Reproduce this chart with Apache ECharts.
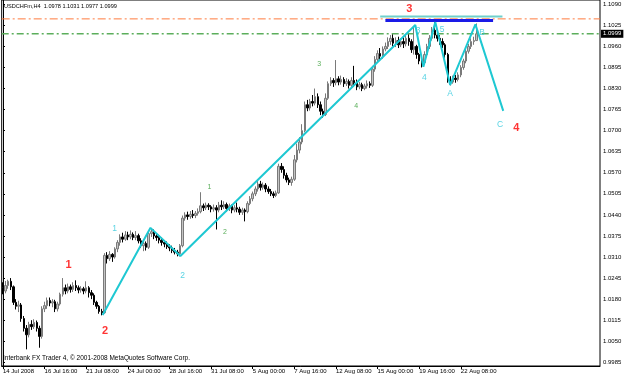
<!DOCTYPE html>
<html><head><meta charset="utf-8">
<script src="https://cdn.jsdelivr.net/npm/echarts@6/dist/echarts.min.js"></script>
<style>html,body{margin:0;padding:0;background:#fff}#c{width:625px;height:378px}</style>
</head><body><div id="c"></div>
<script>
// ---- data (USDCHFm H4) ----
const opens = [
1.0215,1.0205,1.0222,1.0235,1.0218,1.0170,1.0158,1.0162,1.0120,1.0090,
1.0070,1.0102,1.0095,1.0108,1.0090,1.0065,1.0150,1.0160,1.0176,1.0168,
1.0172,1.0150,1.0165,1.0195,1.0215,1.0205,1.0218,1.0210,1.0222,1.0215,
1.0208,1.0212,1.0205,1.0215,1.0200,1.0192,1.0170,1.0158,1.0142,1.0138,
1.0315,1.0305,1.0318,1.0310,1.0335,1.0355,1.0372,1.0365,1.0378,1.0372,
1.0380,1.0370,1.0376,1.0360,1.0345,1.0352,1.0340,1.0382,1.0388,1.0375,
1.0370,1.0362,1.0355,1.0350,1.0342,1.0338,1.0330,1.0325,1.0320,1.0345,
1.0430,1.0440,1.0435,1.0442,1.0438,1.0445,1.0450,1.0468,1.0462,1.0470,
1.0465,1.0458,1.0462,1.0455,1.0470,1.0465,1.0472,1.0460,1.0468,1.0455,
1.0462,1.0458,1.0448,1.0455,1.0450,1.0475,1.0490,1.0505,1.0520,1.0535,
1.0525,1.0532,1.0520,1.0512,1.0505,1.0500,1.0508,1.0590,1.0580,1.0562,
1.0548,1.0540,1.0550,1.0610,1.0640,1.0665,1.0700,1.0780,1.0770,1.0790,
1.0785,1.0805,1.0780,1.0760,1.0750,1.0800,1.0845,1.0855,1.0848,1.0860,
1.0850,1.0858,1.0845,1.0852,1.0840,1.0855,1.0848,1.0835,1.0842,1.0830,
1.0838,1.0845,1.0840,1.0890,1.0920,1.0938,1.0930,1.0952,1.0960,1.0975,
1.0985,1.0970,1.0978,1.0965,1.0975,1.0968,1.0985,1.0975,1.0950,1.0960,
1.0935,1.0915,1.0910,1.0935,1.0960,1.0985,1.1010,1.0995,1.0985,1.0975,
1.0965,1.0935,1.0855,1.0850,1.0862,1.0858,1.0872,1.0895,1.0915,1.0945,
1.0960,1.0975,1.0978];
const closes = [
1.0205,1.0222,1.0235,1.0218,1.0170,1.0158,1.0162,1.0120,1.0090,1.0070,
1.0102,1.0095,1.0108,1.0090,1.0065,1.0150,1.0160,1.0176,1.0168,1.0172,
1.0150,1.0165,1.0195,1.0215,1.0205,1.0218,1.0210,1.0222,1.0215,1.0208,
1.0212,1.0205,1.0215,1.0200,1.0192,1.0170,1.0158,1.0142,1.0138,1.0315,
1.0305,1.0318,1.0310,1.0335,1.0355,1.0372,1.0365,1.0378,1.0372,1.0380,
1.0370,1.0376,1.0360,1.0345,1.0352,1.0340,1.0382,1.0388,1.0375,1.0370,
1.0362,1.0355,1.0350,1.0342,1.0338,1.0330,1.0325,1.0320,1.0345,1.0430,
1.0440,1.0435,1.0442,1.0438,1.0445,1.0450,1.0468,1.0462,1.0470,1.0465,
1.0458,1.0462,1.0455,1.0470,1.0465,1.0472,1.0460,1.0468,1.0455,1.0462,
1.0458,1.0448,1.0455,1.0450,1.0475,1.0490,1.0505,1.0520,1.0535,1.0525,
1.0532,1.0520,1.0512,1.0505,1.0500,1.0508,1.0590,1.0580,1.0562,1.0548,
1.0540,1.0550,1.0610,1.0640,1.0665,1.0700,1.0780,1.0770,1.0790,1.0785,
1.0805,1.0780,1.0760,1.0750,1.0800,1.0845,1.0855,1.0848,1.0860,1.0850,
1.0858,1.0845,1.0852,1.0840,1.0855,1.0848,1.0835,1.0842,1.0830,1.0838,
1.0845,1.0840,1.0890,1.0920,1.0938,1.0930,1.0952,1.0960,1.0975,1.0985,
1.0970,1.0978,1.0965,1.0975,1.0968,1.0985,1.0975,1.0950,1.0960,1.0935,
1.0915,1.0910,1.0935,1.0960,1.0985,1.1010,1.0995,1.0985,1.0975,1.0965,
1.0935,1.0855,1.0850,1.0862,1.0858,1.0872,1.0895,1.0915,1.0945,1.0960,
1.0975,1.0978,1.0999];
const lows = [
1.0195,1.0198,1.0212,1.0208,1.0162,1.0148,1.0140,1.0110,1.0080,1.0025,
1.0062,1.0085,1.0088,1.0080,1.0030,1.0058,1.0140,1.0150,1.0158,1.0155,
1.0140,1.0142,1.0160,1.0188,1.0195,1.0198,1.0200,1.0202,1.0205,1.0198,
1.0200,1.0195,1.0198,1.0185,1.0180,1.0162,1.0150,1.0135,1.0130,1.0135,
1.0290,1.0298,1.0295,1.0305,1.0325,1.0345,1.0355,1.0360,1.0362,1.0365,
1.0362,1.0362,1.0352,1.0338,1.0328,1.0330,1.0335,1.0372,1.0365,1.0360,
1.0352,1.0345,1.0340,1.0335,1.0328,1.0322,1.0318,1.0312,1.0312,1.0340,
1.0422,1.0425,1.0428,1.0430,1.0430,1.0438,1.0445,1.0452,1.0455,1.0455,
1.0448,1.0450,1.0395,1.0448,1.0455,1.0458,1.0450,1.0452,1.0445,1.0448,
1.0448,1.0440,1.0440,1.0420,1.0445,1.0470,1.0482,1.0498,1.0512,1.0515,
1.0518,1.0510,1.0505,1.0498,1.0492,1.0495,1.0505,1.0570,1.0552,1.0540,
1.0532,1.0530,1.0545,1.0602,1.0630,1.0658,1.0695,1.0760,1.0762,1.0775,
1.0778,1.0770,1.0748,1.0740,1.0745,1.0795,1.0838,1.0835,1.0840,1.0840,
1.0842,1.0835,1.0838,1.0830,1.0832,1.0835,1.0825,1.0828,1.0822,1.0825,
1.0830,1.0832,1.0835,1.0882,1.0910,1.0918,1.0922,1.0945,1.0952,1.0965,
1.0960,1.0958,1.0955,1.0958,1.0955,1.0960,1.0962,1.0940,1.0935,1.0922,
1.0905,1.0895,1.0905,1.0928,1.0952,1.0978,1.0985,1.0975,1.0965,1.0955,
1.0925,1.0848,1.0840,1.0845,1.0848,1.0852,1.0865,1.0888,1.0908,1.0938,
1.0952,1.0965,1.0977];
const highs = [
1.0232,1.0236,1.0240,1.0245,1.0222,1.0180,1.0175,1.0168,1.0128,1.0100,
1.0110,1.0115,1.0118,1.0114,1.0098,1.0158,1.0172,1.0185,1.0185,1.0180,
1.0178,1.0172,1.0200,1.0245,1.0225,1.0228,1.0225,1.0232,1.0238,1.0222,
1.0220,1.0218,1.0235,1.0220,1.0208,1.0198,1.0175,1.0162,1.0150,1.0322,
1.0325,1.0328,1.0322,1.0340,1.0362,1.0380,1.0385,1.0390,1.0388,1.0392,
1.0386,1.0390,1.0382,1.0368,1.0362,1.0358,1.0390,1.0398,1.0395,1.0382,
1.0378,1.0370,1.0362,1.0358,1.0350,1.0345,1.0338,1.0332,1.0350,1.0438,
1.0448,1.0450,1.0452,1.0455,1.0452,1.0460,1.0510,1.0475,1.0478,1.0476,
1.0470,1.0472,1.0470,1.0480,1.0485,1.0482,1.0478,1.0475,1.0472,1.0470,
1.0478,1.0465,1.0462,1.0460,1.0482,1.0498,1.0512,1.0528,1.0545,1.0545,
1.0540,1.0538,1.0528,1.0520,1.0512,1.0515,1.0598,1.0600,1.0590,1.0570,
1.0555,1.0558,1.0625,1.0660,1.0680,1.0720,1.0790,1.0795,1.0798,1.0810,
1.0830,1.0815,1.0790,1.0768,1.0815,1.0852,1.0865,1.0862,1.0918,1.0868,
1.0870,1.0865,1.0862,1.0858,1.0865,1.0900,1.0858,1.0850,1.0848,1.0845,
1.0855,1.0852,1.0900,1.0930,1.0948,1.0955,1.0960,1.0972,1.0988,1.0995,
1.0998,1.0988,1.0990,1.0985,1.0988,1.0995,1.0998,1.0982,1.1020,1.0965,
1.0940,1.0925,1.0945,1.0968,1.0995,1.1020,1.1035,1.1005,1.0995,1.0985,
1.0970,1.0940,1.0868,1.0870,1.0872,1.0880,1.0902,1.0922,1.0955,1.0968,
1.0985,1.0990,1.1031];

const yTicks = [0.9985,1.0050,1.0115,1.0180,1.0245,1.0310,1.0375,1.0440,1.0505,1.0570,1.0635,1.0700,1.0765,1.0830,1.0895,1.0960,1.1025,1.1090];
const xTickLabels = ['14 Jul 2008','16 Jul 16:00','21 Jul 08:00','24 Jul 00:00','28 Jul 16:00','31 Jul 08:00','5 Aug 00:00','7 Aug 16:00','12 Aug 08:00','15 Aug 00:00','19 Aug 16:00','22 Aug 08:00'];

// wave zigzag vertices [bar position, price]
const zigzag = [[38.3,1.0131],[56.7,1.0400],[68.2,1.0313],[158.5,1.1026],[161.6,1.0897],[166.2,1.1035],[171.9,1.0841],[181.6,1.1028],[192.3,1.0761]];
// horizontal trend lines
const blueLine = [[147,1.1040],[188.4,1.1040]];
const cyanLine = [[145,1.1052],[192,1.1052]];
const orangeLevel = 1.1045;
const priceLevel = 1.0999;
// wave labels [text, bar position, price]
const redLabels = [['1',25.2,1.0284],['2',39.2,1.0083],['3',156.2,1.1075],['4',197.3,1.0708]];
const cyanLabels = [['1',42.9,1.0399],['2',69.0,1.0251],['3',159.6,1.1010],['4',162.0,1.0865],['5',168.8,1.1013],['A',171.9,1.0813],['B',184.2,1.1004],['C',191.1,1.0717]];
const greenLabels = [['1',79.4,1.0526],['2',85.3,1.0387],['3',121.6,1.0906],['4',135.8,1.0776]];

const titleText = 'USDCHFm,H4  1.0978 1.1031 1.0977 1.0999';
const footerText = 'Interbank FX Trader 4, \u00A9 2001-2008 MetaQuotes Software Corp.';

// ---- build ----
const SLOTS = 230;
const N = closes.length;
const MON = ['Jan','Feb','Mar','Apr','May','Jun','Jul','Aug','Sep','Oct','Nov','Dec'];
const categories = [];
(function(){
  let t = Date.UTC(2008,6,14,0,0);
  while (categories.length < N) {
    const d = new Date(t); const wd = d.getUTCDay();
    if (wd >= 1 && wd <= 5) {
      const hh = String(d.getUTCHours()).padStart(2,'0');
      categories.push(d.getUTCDate()+' '+MON[d.getUTCMonth()]+' '+hh+':00');
    }
    t += 4*3600*1000;
  }
  for (let i = N; i < SLOTS; i++) categories.push('slot'+i);
})();
const ohlc = opens.map((o,i)=>[o, closes[i], lows[i], highs[i]]);
const showTick = (idx) => idx % 16 === 0 && (idx/16) < xTickLabels.length;
const FONT = '"Liberation Sans", Arial, sans-serif';
const yMin = 0.99736, yMax = 1.11033;
const xFrom = -0.5, xTo = SLOTS - 0.5;

function labelSeries(arr, style) {
  return {
    type:'scatter', xAxisIndex:1, yAxisIndex:0, symbolSize:1, silent:true, z:20,
    itemStyle:{color:'rgba(0,0,0,0)'},
    data: arr.map(l=>({name:l[0], value:[l[1], l[2]]})),
    label: Object.assign({show:true, position:'inside', formatter:'{b}', fontFamily:FONT}, style)
  };
}
function levelSeries(level, lineStyle, z, label) {
  const s = {type:'line', xAxisIndex:1, yAxisIndex:0, symbol:'none', silent:true, z:z,
    data:[[xFrom, level],[xTo, level]], lineStyle:lineStyle};
  if (label) {
    s.endLabel = label;
  }
  return s;
}

const chart = echarts.init(document.getElementById('c'), null, {renderer:'canvas'});
chart.setOption({
  animation:false,
  backgroundColor:'#ffffff',
  grid:{left:1, top:0, width:599, height:366, show:true, borderColor:'#000', borderWidth:1, backgroundColor:'#fff'},
  xAxis:[{
    type:'category', data:categories, boundaryGap:true,
    axisLine:{show:true, lineStyle:{color:'#000'}},
    axisTick:{show:true, alignWithLabel:true, interval:(i)=>showTick(i), length:3, lineStyle:{color:'#000'}},
    axisLabel:{show:true, interval:(i)=>showTick(i), formatter:(v,i)=>xTickLabels[i/16] || '', align:'left', fontSize:6, color:'#000', margin:2, fontFamily:FONT},
    splitLine:{show:false}
  },{
    type:'value', min:xFrom, max:xTo, show:false
  }],
  yAxis:[{
    type:'value', position:'right', min:yMin, max:yMax,
    axisLine:{show:true, lineStyle:{color:'#000'}},
    axisTick:{show:true, length:2, customValues:yTicks, lineStyle:{color:'#000'}},
    axisLabel:{show:true, customValues:yTicks, formatter:(v)=>v.toFixed(4), fontSize:6, color:'#000', margin:3, fontFamily:FONT},
    splitLine:{show:false}
  }],
  graphic:[
    {type:'text', left:4, top:3, style:{text:titleText, font:'5.6px '+FONT, fill:'#000'}},
    {type:'text', left:3, top:355, style:{text:footerText, font:'6.5px '+FONT, fill:'#000'}}
  ],
  series:[
    {
      type:'candlestick', xAxisIndex:0, yAxisIndex:0, data:ohlc, barWidth:2, z:2,
      itemStyle:{color:'#c4c4c4', borderColor:'#7a7a7a', color0:'#000000', borderColor0:'#000000', borderWidth:1}
    },
    levelSeries(orangeLevel, {color:'#ff7a3d', type:[8,3,2,3], width:1}, 3),
    levelSeries(priceLevel, {color:'#5cae5c', type:[7,3,2,3], width:1.5}, 3,
      {show:true, formatter:priceLevel.toFixed(4), backgroundColor:'#000', color:'#fff', fontSize:6, fontFamily:FONT, padding:[1,2,1,2], distance:1}),
    {type:'line', xAxisIndex:1, data:cyanLine, symbol:'none', silent:true, z:5, lineStyle:{color:'#6fd0cc', width:2}},
    {type:'line', xAxisIndex:1, data:blueLine, symbol:'none', silent:true, z:6, lineStyle:{color:'#1a1ae6', width:3}},
    {type:'line', xAxisIndex:1, data:zigzag, symbol:'none', silent:true, z:7, lineStyle:{color:'#1ec8d2', width:2}},
    labelSeries(redLabels, {color:'#ff0000', fontWeight:'bold', fontSize:11}),
    labelSeries(cyanLabels, {color:'#30c8dc', fontSize:8.5}),
    labelSeries(greenLabels, {color:'#2f9a2f', fontSize:7})
  ]
});
</script></body></html>
